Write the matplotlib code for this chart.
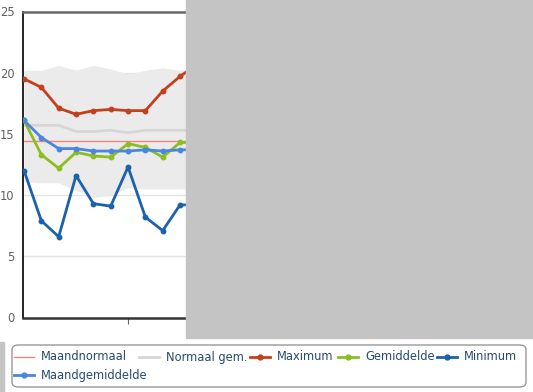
# Daily temperatures vs. monthly normal (partly covered chart)

import numpy as np
import matplotlib.pyplot as plt
from matplotlib.patches import Rectangle, FancyBboxPatch
from matplotlib.lines import Line2D

W, H = 533, 392

# values (only the visible part; last point read from the stubs)
days = np.arange(11)
maximum = [19.5, 18.8, 17.1, 16.6, 16.9, 17.0, 16.9, 16.9, 18.5, 19.7, 20.7]
gemiddelde = [16.1, 13.3, 12.2, 13.5, 13.2, 13.1, 14.2, 13.9, 13.1, 14.3, 14.3]
minimum = [12.0, 7.9, 6.6, 11.6, 9.3, 9.1, 12.3, 8.2, 7.1, 9.2, 9.2]
maandgem = [16.1, 14.7, 13.8, 13.8, 13.6, 13.6, 13.6, 13.7, 13.6, 13.7, 13.7]
maandnormaal = [14.4] * 11
normaal_gem = [15.7, 15.7, 15.7, 15.2, 15.2, 15.3, 15.1, 15.3, 15.3, 15.3, 15.3]
band_hi = [20.2, 20.2, 20.6, 20.2, 20.6, 20.3, 19.9, 20.2, 20.4, 20.2, 20.2]
band_lo = [11.1, 11.0, 11.0, 10.4, 9.8, 10.0, 10.6, 10.5, 10.5, 10.5, 10.5]
yticks = [0, 5, 10, 15, 20, 25]

c_max = '#c2401c'
c_gem = '#8cbd23'
c_min = '#1a62ab'
c_mgem = '#4a87dc'
c_norm = '#f2857a'
c_ngem = '#d6d6d6'
txt = '#274b6d'

def fx(x):
    return x / W

def fy(y):
    return 1 - y / H

fig = plt.figure(figsize=(W / 100, H / 100), dpi=100)
ax = fig.add_axes([fx(23), fy(317.5), fx(525) - fx(23), fy(11.5) - fy(317.5)])

ax.fill_between(days, band_lo, band_hi, color='#ebebeb', lw=0, zorder=1)
ax.plot(days, maandnormaal, color=c_norm, lw=1, zorder=2)
ax.plot(days, normaal_gem, color=c_ngem, lw=2, zorder=2)
mk = dict(marker='o', ms=3.2, lw=2, zorder=3)
ax.plot(days, maximum, color=c_max, **mk)
ax.plot(days, gemiddelde, color=c_gem, **mk)
ax.plot(days, minimum, color=c_min, **mk)
ax.plot(days, maandgem, color=c_mgem, **mk)

ax.set_xlim(-0.06, 28.9)
ax.set_ylim(0, 25)
ax.set_yticks(yticks)
ax.set_yticklabels([str(v) for v in yticks], color='#606060', fontsize=8.3)
ax.tick_params(axis='y', length=0, pad=6)
ax.set_xticks([6])
ax.set_xticklabels([''])
ax.tick_params(axis='x', length=4, color='#666666')
for v in yticks[1:-1]:
    ax.axhline(v, color='#e4e4e4', lw=1, zorder=0.5)
ax.spines['right'].set_visible(False)
ax.spines['top'].set_color('#666666')
ax.spines['top'].set_linewidth(1.8)
ax.spines['left'].set_color('#000000')
ax.spines['left'].set_linewidth(1.2)
ax.spines['bottom'].set_color('#333333')
ax.spines['bottom'].set_linewidth(1.8)
ax.set_facecolor('white')

# grey covers
fig.patches.append(Rectangle((fx(186), fy(338)), fx(W) - fx(186), fy(0) - fy(338),
                             transform=fig.transFigure, color='#c4c4c4', zorder=10))
fig.patches.append(Rectangle((0, 0), fx(4), fy(342),
                             transform=fig.transFigure, color='#c4c4c4', zorder=10))

# legend box
fig.patches.append(FancyBboxPatch((fx(12), fy(387)), fx(526) - fx(12), fy(345) - fy(387),
                                  boxstyle='round,pad=0,rounding_size=0.012',
                                  transform=fig.transFigure, facecolor='white',
                                  edgecolor='#999999', lw=1, zorder=11))

items = [('Maandnormaal', c_norm, 14, 357, False, 1),
         ('Normaal gem.', c_ngem, 139, 357, False, 2),
         ('Maximum', c_max, 250, 357, True, 2),
         ('Gemiddelde', c_gem, 338, 357, True, 2),
         ('Minimum', c_min, 437, 357, True, 2),
         ('Maandgemiddelde', c_mgem, 14, 375, True, 2)]
for name, col, x0, y0, marker, lw in items:
    fig.lines.append(Line2D([fx(x0), fx(x0 + 20)], [fy(y0), fy(y0)], transform=fig.transFigure,
                            color=col, lw=lw, zorder=12))
    if marker:
        fig.lines.append(Line2D([fx(x0 + 10)], [fy(y0)], transform=fig.transFigure,
                                color=col, marker='o', ms=3.5, zorder=13))
    fig.text(fx(x0 + 27), fy(y0), name, color=txt, fontsize=8.3, va='center',
             ha='left', zorder=13)

fig.savefig('out.png', dpi=100)
